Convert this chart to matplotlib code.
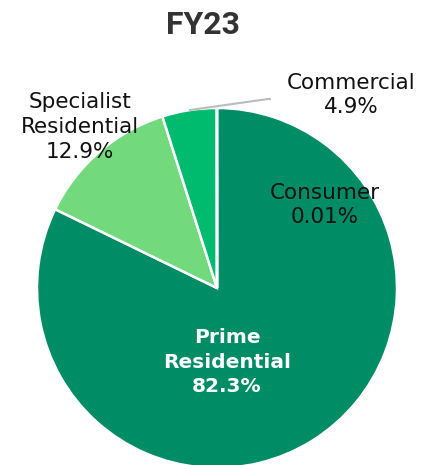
import matplotlib
matplotlib.use("Agg")
import matplotlib.pyplot as plt

# segment shares FY23 (%), clockwise from top
segments = ["Prime\nResidential", "Specialist\nResidential", "Commercial", "Consumer"]
shares = [82.3, 12.9, 4.9, 0.01]
share_labels = ["82.3%", "12.9%", "4.9%", "0.01%"]
colors = ["#008C64", "#72DA7C", "#00BA6E", "#00BA6E"]

W, H = 426, 465
fig = plt.figure(figsize=(W / 100, H / 100), dpi=100)
ax = fig.add_axes([0, 0, 1, 1])

def py(y):
    # pixel row (from top) -> data y
    return H - y

cx, cy, r = 217, py(288), 180
ax.pie(shares, colors=colors, startangle=90, counterclock=False,
       center=(cx, cy), radius=r, frame=True,
       wedgeprops=dict(edgecolor="white", linewidth=1.8))
ax.set_xlim(0, W)
ax.set_ylim(0, H)
ax.axis("off")

ax.text(203, py(25), "FY23", ha="center", va="center", fontsize=23,
        fontweight="bold", color="#333333", family="Roboto")

lab_font = "DejaVu Sans"
ax.text(227, py(362), segments[0] + "\n" + share_labels[0], ha="center", va="center",
        fontsize=14.5, fontweight="bold", color="white", family=lab_font, linespacing=1.38)
ax.text(80, py(127), segments[1] + "\n" + share_labels[1], ha="center", va="center",
        fontsize=15.5, color="#111111", family=lab_font, linespacing=1.3)
ax.text(351, py(95), segments[2] + "\n" + share_labels[2], ha="center", va="center",
        fontsize=15.5, color="#111111", family=lab_font, linespacing=1.3)
ax.text(325, py(205), segments[3] + "\n" + share_labels[3], ha="center", va="center",
        fontsize=15.5, color="#111111", family=lab_font, linespacing=1.3)

# leader line to Commercial
ax.plot([190, 268, 270], [py(110), py(99), py(99)], color="#BBBBBB", lw=1.5)

fig.savefig("out.png", dpi=100)
